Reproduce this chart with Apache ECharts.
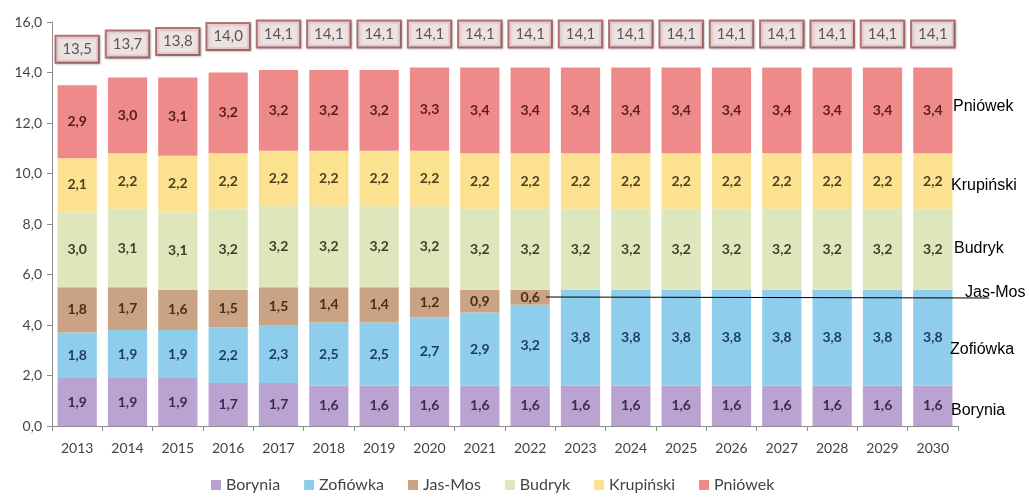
<!DOCTYPE html>
<html>
<head>
<meta charset="utf-8">
<script src="https://cdn.jsdelivr.net/npm/echarts@6/dist/echarts.min.js"></script>
<style>html,body{margin:0;padding:0;background:#fff}#c{width:1029px;height:497px}</style>
</head>
<body>
<div id="c"></div>
<script>
const years = ['2013','2014','2015','2016','2017','2018','2019','2020','2021','2022','2023','2024','2025','2026','2027','2028','2029','2030'];
const borynia   = [1.9,1.9,1.9,1.7,1.7,1.6,1.6,1.6,1.6,1.6,1.6,1.6,1.6,1.6,1.6,1.6,1.6,1.6];
const zofiowka  = [1.8,1.9,1.9,2.2,2.3,2.5,2.5,2.7,2.9,3.2,3.8,3.8,3.8,3.8,3.8,3.8,3.8,3.8];
const jasmos    = [1.8,1.7,1.6,1.5,1.5,1.4,1.4,1.2,0.9,0.6,null,null,null,null,null,null,null,null];
const budryk    = [3.0,3.1,3.1,3.2,3.2,3.2,3.2,3.2,3.2,3.2,3.2,3.2,3.2,3.2,3.2,3.2,3.2,3.2];
const krupinski = [2.1,2.2,2.2,2.2,2.2,2.2,2.2,2.2,2.2,2.2,2.2,2.2,2.2,2.2,2.2,2.2,2.2,2.2];
const pniowek   = [2.9,3.0,3.1,3.2,3.2,3.2,3.2,3.3,3.4,3.4,3.4,3.4,3.4,3.4,3.4,3.4,3.4,3.4];
const totals    = [13.5,13.7,13.8,14.0,14.1,14.1,14.1,14.1,14.1,14.1,14.1,14.1,14.1,14.1,14.1,14.1,14.1,14.1];
const yTicks    = [0,2,4,6,8,10,12,14,16];

const fmt = v => Number(v).toFixed(1).replace('.', ',');
const FONT = 'Lato';

function barSeries(name, data, color, labelColor) {
  return {
    name, type: 'bar', stack: 'total', data,
    barWidth: '78%',
    itemStyle: { color },
    label: {
      show: true, position: 'inside',
      formatter: p => (p.value == null ? '' : fmt(p.value)),
      color: labelColor, fontFamily: FONT, fontSize: 14, fontWeight: 'bold'
    },
    emphasis: { disabled: true }
  };
}

const side = (text, left, top) => ({ type: 'text', left, top, z: 100,
  style: { text, fontFamily: 'Liberation Sans', fontSize: 16, fill: '#000' } });

const chart = echarts.init(document.getElementById('c'), null, { renderer: 'canvas' });
chart.setOption({
  animation: false,
  backgroundColor: '#fff',
  grid: { left: 52, right: 71, top: 22, bottom: 71, containLabel: false },
  legend: {
    top: 472, left: 206, itemWidth: 10, itemHeight: 10, itemGap: 24, icon: 'rect',
    textStyle: { fontFamily: FONT, fontSize: 16, color: '#444' },
    data: ['Borynia','Zofiówka','Jas-Mos','Budryk','Krupiński','Pniówek']
  },
  xAxis: {
    type: 'category', data: years,
    axisLine: { lineStyle: { color: '#8c8c8c' } },
    axisTick: { show: true, length: 5, lineStyle: { color: '#8c8c8c' } },
    axisLabel: { color: '#444', fontFamily: FONT, fontSize: 14, margin: 15 }
  },
  yAxis: {
    type: 'value', min: yTicks[0], max: yTicks[yTicks.length - 1], interval: 2,
    axisLine: { show: true, lineStyle: { color: '#8c8c8c' } },
    axisTick: { show: true, length: 5, lineStyle: { color: '#8c8c8c' } },
    splitLine: { show: false },
    axisLabel: { color: '#444', fontFamily: FONT, fontSize: 14, formatter: v => fmt(v), margin: 10 }
  },
  series: [
    barSeries('Borynia', borynia, '#bba3d1', '#3b2a55'),
    barSeries('Zofiówka', zofiowka, '#8ecdeb', '#1e3c5c'),
    barSeries('Jas-Mos', jasmos, '#c9a383', '#4a2e1c'),
    barSeries('Budryk', budryk, '#dee7bb', '#3b4224'),
    barSeries('Krupiński', krupinski, '#fce290', '#4d4020'),
    barSeries('Pniówek', pniowek, '#ee8b8a', '#5a1c1c'),
    {
      name: 'Razem', type: 'scatter', data: totals.map((t, i) => [i, t]),
      symbolSize: 0, silent: true, z: 10,
      label: {
        show: true, position: 'inside', offset: [0, -36],
        formatter: p => fmt(p.value[1]),
        color: '#333', fontFamily: FONT, fontSize: 15,
        backgroundColor: '#f6e6e6', borderColor: '#a45656', borderWidth: 2,
        padding: [5, 6], shadowColor: 'rgba(0,0,0,0.25)', shadowBlur: 2, shadowOffsetX: 1, shadowOffsetY: 1
      }
    }
  ],
  graphic: [
    { type: 'line', z: 100, shape: { x1: 546, y1: 297, x2: 989, y2: 298 }, style: { stroke: '#000', lineWidth: 1.2 } },
    side('Pniówek', 953, 99),
    side('Krupiński', 951, 178),
    side('Budryk', 954, 241),
    side('Jas-Mos', 965, 285),
    side('Zofiówka', 950, 342),
    side('Borynia', 951, 403)
  ]
});
</script>
</body>
</html>
